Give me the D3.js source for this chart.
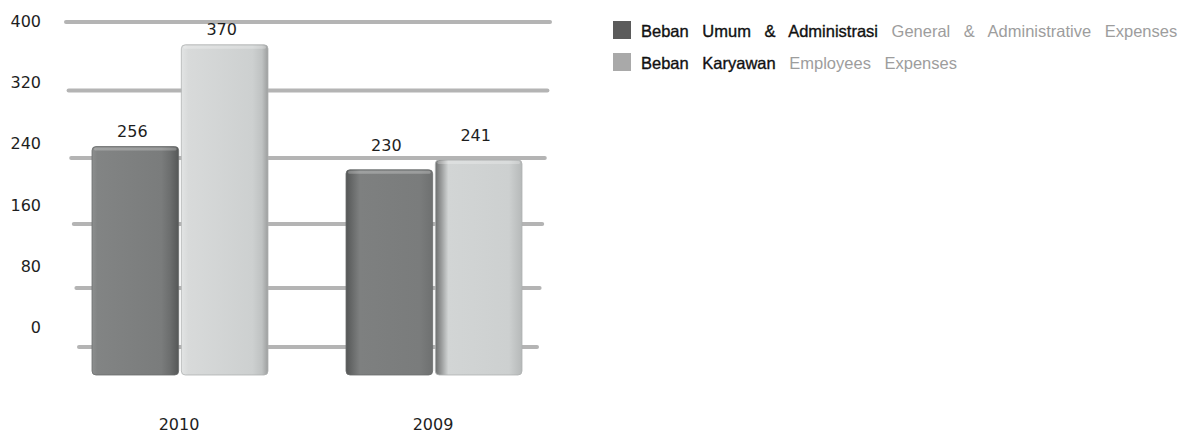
<!DOCTYPE html>
<html>
<head>
<meta charset="utf-8">
<script src="https://cdn.jsdelivr.net/npm/d3@7"></script>
<style>
	body { margin: 0; background: #fff; }
	text { font-family: 'DejaVu Sans', sans-serif; }
	.legend-text { font-family: 'Liberation Sans', Arial, sans-serif; }
</style>
</head>
<body>
<div id="chart"></div>
<script>
// ********** 3D-LOOK GROUPED BAR CHART **********

// Chart data
const years = ['2010', '2009'];
const seriesId = ['Beban Umum & Administrasi', 'Beban Karyawan'];
const seriesEn = ['General & Administrative Expenses', 'Employees Expenses'];
const umumValues = [256, 230];
const karyawanValues = [370, 241];
const tickValues = [0, 80, 160, 240, 320, 400];

const width = 1181;
const height = 436;

// Colours for the legend squares
const colors = (idx) => ['#5b5b5b', '#a9a9a9'][idx];

let svg;

// Scales - the picture is drawn in perspective, so bars, gridlines and tick labels each get their own
const yBar = d3.scaleLinear().domain([0, 400]).range([375, 18]);
const yGrid = d3.scalePow().exponent(1.06).domain([0, 400]).range([347, 22]);
const yTick = d3.scaleLinear().domain([0, 400]).range([333, 27]);
const gridLeft = d3.scaleLinear().domain([0, 400]).range([79, 66]);
const gridRight = d3.scaleLinear().domain([0, 400]).range([537, 550]);
const x0 = d3.scalePoint().domain(years).range([180, 434]);
const x1 = d3.scaleBand().domain([0, 1]).range([-88, 88]).paddingInner(0.03);

// Build flat array of bars
const genChartData = () => {
	let dataset = [];
	years.forEach((year, gi) => {
		dataset.push({ year: year, group: gi, series: 0, value: umumValues[gi] });
		dataset.push({ year: year, group: gi, series: 1, value: karyawanValues[gi] });
	});
	return dataset;
}

const createSVG = () => {
	svg = d3.select('#chart')
		.append('svg')
		.attr('width', width)
		.attr('height', height);
}

// Gradients give each bar a shaded side face (right side for 2010, left side for 2009)
const renderDefs = () => {
	const defs = svg.append('defs');
	const shades = [
		{ id: 'dark-0', stops: [['0%', '#8d8f8f'], ['6%', '#828484'], ['80%', '#7a7c7c'], ['90%', '#6c6e6e'], ['100%', '#555757']] },
		{ id: 'light-0', stops: [['0%', '#e2e4e4'], ['8%', '#d8dada'], ['82%', '#cdd0d0'], ['93%', '#bfc2c2'], ['100%', '#9c9e9e']] },
		{ id: 'dark-1', stops: [['0%', '#555757'], ['8%', '#6a6c6c'], ['16%', '#7e8080'], ['85%', '#7a7c7c'], ['100%', '#6e7070']] },
		{ id: 'light-1', stops: [['0%', '#6d6f6f'], ['7%', '#9a9c9c'], ['15%', '#d2d5d5'], ['85%', '#cdd0d0'], ['100%', '#b6b9b9']] }
	];
	const grads = defs.selectAll('linearGradient')
		.data(shades)
		.enter()
		.append('linearGradient')
		.attr('id', d => d.id)
		.attr('x1', '0%').attr('x2', '100%')
		.attr('y1', '0%').attr('y2', '0%');
	grads.selectAll('stop')
		.data(d => d.stops)
		.enter()
		.append('stop')
		.attr('offset', d => d[0])
		.attr('stop-color', d => d[1]);
}

const renderGrid = () => {
	svg.append('g')
		.attr('class', 'grid')
		.selectAll('line')
		.data(tickValues)
		.enter()
		.append('line')
		.attr('x1', d => gridLeft(d))
		.attr('x2', d => gridRight(d))
		.attr('y1', d => yGrid(d))
		.attr('y2', d => yGrid(d))
		.attr('stroke', '#b4b4b4')
		.attr('stroke-width', 4)
		.attr('stroke-linecap', 'round');

	svg.append('g')
		.attr('class', 'y-ticks')
		.selectAll('text')
		.data(tickValues)
		.enter()
		.append('text')
		.attr('x', 41)
		.attr('y', d => yTick(d))
		.attr('text-anchor', 'end')
		.attr('font-size', 16)
		.attr('fill', '#1e1e1e')
		.text(d => d);
}

const renderBars = (data) => {
	const bars = svg.append('g').attr('class', 'bars')
		.selectAll('g.bar')
		.data(data)
		.enter()
		.append('g')
		.attr('class', 'bar')
		.attr('transform', d => `translate(${x0(d.year) + x1(d.series)}, 0)`);

	bars.append('rect')
		.attr('x', 0)
		.attr('y', d => yBar(d.value))
		.attr('width', x1.bandwidth())
		.attr('height', d => yBar(0) - yBar(d.value))
		.attr('rx', 4)
		.attr('fill', d => `url(#${d.series === 0 ? 'dark' : 'light'}-${d.group})`)
		.attr('stroke', d => d.series === 0 ? '#6a6c6c' : '#aeb1b1')
		.attr('stroke-width', 0.8);

	// lighter rim along the top edge
	bars.append('rect')
		.attr('x', 2)
		.attr('y', d => yBar(d.value) + 1)
		.attr('width', x1.bandwidth() - 4)
		.attr('height', 3)
		.attr('rx', 1.5)
		.attr('fill', '#ffffff')
		.attr('opacity', 0.25);

	// value labels
	svg.append('g').attr('class', 'values')
		.selectAll('text')
		.data(data)
		.enter()
		.append('text')
		.attr('x', d => x0(d.year) + x1(d.series) + x1.bandwidth() / 2 - 3)
		.attr('y', d => yBar(d.value) - (d.group === 0 ? 10 : 19))
		.attr('text-anchor', 'middle')
		.attr('font-size', 16)
		.attr('fill', '#1e1e1e')
		.text(d => d.value);

	// category labels
	svg.append('g').attr('class', 'x-labels')
		.selectAll('text')
		.data(years)
		.enter()
		.append('text')
		.attr('x', d => x0(d) - 1)
		.attr('y', 430)
		.attr('text-anchor', 'middle')
		.attr('font-size', 16)
		.attr('fill', '#1e1e1e')
		.text(d => d);
}

const renderLegend = () => {
	const legend = svg.append('g')
		.attr('class', 'legendGroup')
		.attr('transform', 'translate(613, 21)');

	const rows = legend.selectAll('g.row')
		.data(seriesId)
		.enter()
		.append('g')
		.attr('class', 'row')
		.attr('transform', (d, i) => `translate(0, ${i * 32})`);

	rows.append('rect')
		.attr('width', 18)
		.attr('height', 18)
		.attr('fill', (d, i) => colors(i));

	const text = rows.append('text')
		.attr('class', 'legend-text')
		.attr('x', 28)
		.attr('y', 16)
		.attr('font-size', 16.5)
		.attr('word-spacing', 9);

	// Indonesian name is set a touch heavier than the English one
	text.append('tspan')
		.attr('fill', '#111')
		.attr('stroke', '#111')
		.attr('stroke-width', 0.35)
		.text(d => d);
	text.append('tspan')
		.attr('fill', '#9d9d9d')
		.text((d, i) => ' ' + seriesEn[i]);
}

createSVG();
renderDefs();
renderGrid();
renderBars(genChartData());
renderLegend();
</script>
</body>
</html>
